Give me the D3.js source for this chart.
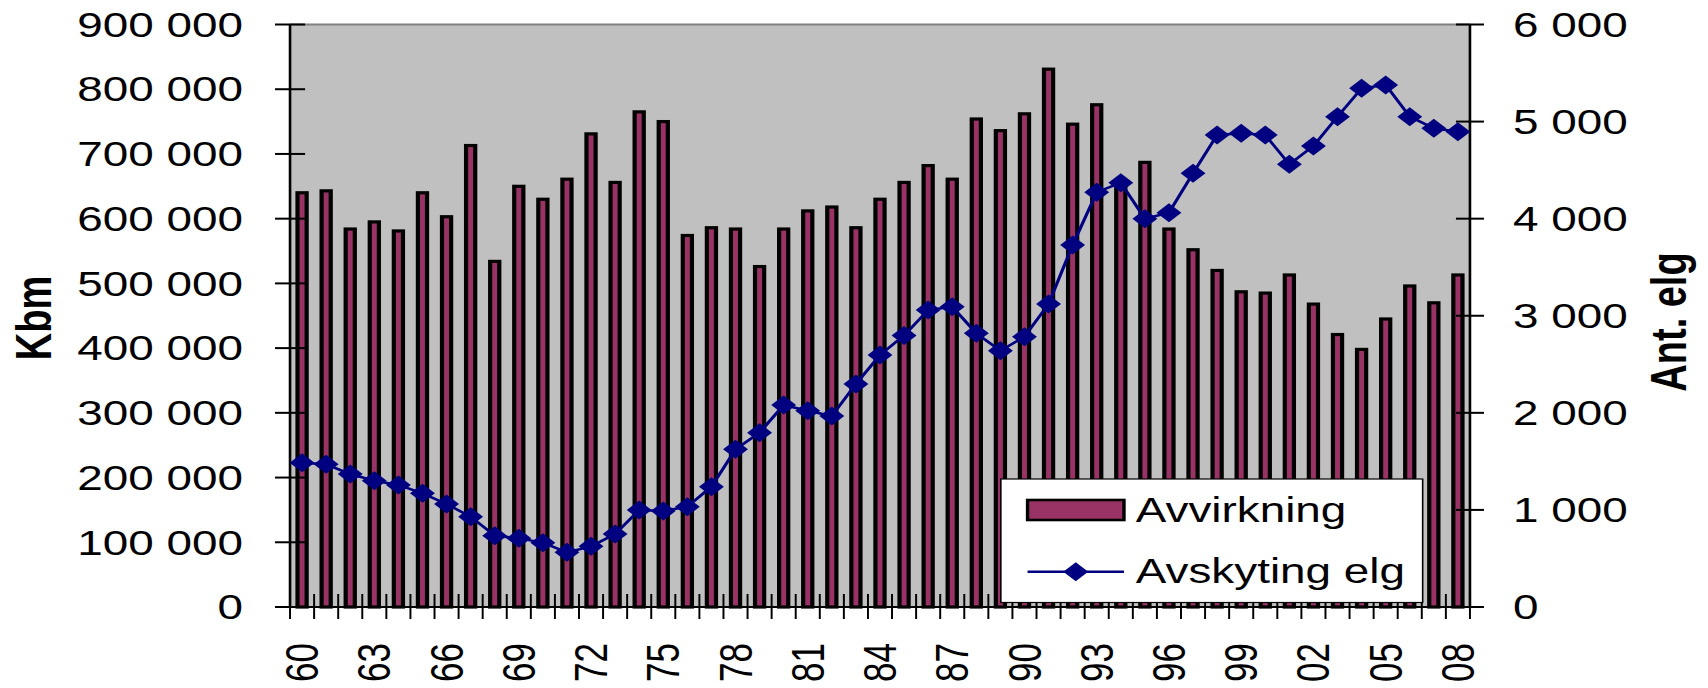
<!DOCTYPE html>
<html>
<head>
<meta charset="utf-8">
<script src="https://cdn.jsdelivr.net/npm/d3@7/dist/d3.min.js"></script>
<style>
  body { margin: 0; background: #fff; }
  text { font-family: "Liberation Sans", Arial, sans-serif; fill: #000; }
</style>
</head>
<body>
<div id="chart-area"></div>
<script>
// data
var years = [1960, 1961, 1962, 1963, 1964, 1965, 1966, 1967, 1968, 1969,
             1970, 1971, 1972, 1973, 1974, 1975, 1976, 1977, 1978, 1979,
             1980, 1981, 1982, 1983, 1984, 1985, 1986, 1987, 1988, 1989,
             1990, 1991, 1992, 1993, 1994, 1995, 1996, 1997, 1998, 1999,
             2000, 2001, 2002, 2003, 2004, 2005, 2006, 2007, 2008];

// Avvirkning (Kbm), left axis
var avvirkning = [640000, 643000, 584000, 595000, 581000, 640000, 603000, 713000, 534000, 650000,
                  630000, 661000, 731000, 656000, 765000, 750000, 574000, 586000, 584000, 526000,
                  584000, 612000, 618000, 586000, 630000, 656000, 682000, 661000, 754000, 736000,
                  762000, 831000, 746000, 776000, 648000, 687000, 584000, 552000, 520000, 487000,
                  485000, 513000, 468000, 421000, 398000, 445000, 496000, 470000, 513000];

// Avskyting elg (Ant. elg), right axis
var avskyting = [1486, 1470, 1370, 1301, 1257, 1171, 1061, 930, 735, 707,
                 663, 563, 625, 752, 999, 989, 1033, 1239, 1624, 1796,
                 2081, 2022, 1967, 2297, 2596, 2797, 3059, 3093, 2819, 2640,
                 2784, 3121, 3729, 4272, 4371, 4000, 4062, 4467, 4862, 4880,
                 4862, 4560, 4749, 5051, 5343, 5377, 5051, 4931, 4896];

var leftTicks = [0, 100000, 200000, 300000, 400000, 500000, 600000, 700000, 800000, 900000];
var rightTicks = [0, 1000, 2000, 3000, 4000, 5000, 6000];
var seriesNames = ["Avvirkning", "Avskyting elg"];

var width = 1708, height = 688;
var stretch = 1.31;           // the original picture is widened, text included
var plot = {left: 221.4, right: 1122.1, top: 24.5, bottom: 607};

var barColor = "#993366", lineColor = "#000080";

var nb = d3.formatLocale({decimal: ",", thousands: "\u00a0", grouping: [3], currency: ["", ""]});
var fmt = nb.format(",d");

var svg = d3.select('#chart-area').append('svg')
    .attr('width', width)
    .attr('height', height);
svg.append('rect').attr('width', width).attr('height', height).attr('fill', '#fff');

var g = svg.append('g').attr('transform', 'scale(' + stretch + ',1)');

var x = d3.scaleBand().domain(years).range([plot.left, plot.right]);
var yL = d3.scaleLinear().domain([0, 900000]).range([plot.bottom, plot.top]);
var yR = d3.scaleLinear().domain([0, 6000]).range([plot.bottom, plot.top]);
var bw = x.bandwidth();
var barW = bw * 0.38;

// plot area
g.append('rect')
    .attr('x', plot.left).attr('y', plot.top)
    .attr('width', plot.right - plot.left).attr('height', plot.bottom - plot.top)
    .attr('fill', '#c0c0c0');
g.append('line')
    .attr('x1', plot.left).attr('x2', plot.right)
    .attr('y1', plot.top).attr('y2', plot.top)
    .attr('stroke', '#808080').attr('stroke-width', 2);

// bars
g.selectAll('rect.bar')
    .data(years)
    .enter().append('rect')
    .attr('class', 'bar')
    .attr('x', function (d) { return x(d) + (bw - barW) / 2; })
    .attr('y', function (d, i) { return yL(avvirkning[i]); })
    .attr('width', barW)
    .attr('height', function (d, i) { return plot.bottom - yL(avvirkning[i]); })
    .attr('fill', barColor)
    .attr('stroke', '#000')
    .attr('stroke-width', 3.2);

// category boundary ticks on the x axis
var bounds = years.map(function (d) { return x(d); }).concat([x.range()[1]]);
g.selectAll('line.xtick')
    .data(bounds)
    .enter().append('line')
    .attr('class', 'xtick')
    .attr('x1', function (d) { return d; }).attr('x2', function (d) { return d; })
    .attr('y1', plot.bottom - 13).attr('y2', plot.bottom + 12)
    .attr('stroke', '#000').attr('stroke-width', 1.5);

// axis lines
g.append('line').attr('x1', plot.left).attr('x2', plot.left)
    .attr('y1', plot.top).attr('y2', plot.bottom).attr('stroke', '#000').attr('stroke-width', 2);
g.append('line').attr('x1', plot.right).attr('x2', plot.right)
    .attr('y1', plot.top).attr('y2', plot.bottom).attr('stroke', '#000').attr('stroke-width', 2);
g.append('line').attr('x1', plot.left).attr('x2', plot.right)
    .attr('y1', plot.bottom).attr('y2', plot.bottom).attr('stroke', '#000').attr('stroke-width', 2);

// left axis
var left = g.append('g').attr('class', 'left axis');
left.selectAll('line').data(leftTicks).enter().append('line')
    .attr('x1', plot.left - 11.5).attr('x2', plot.left + 11.5)
    .attr('y1', function (d) { return yL(d); }).attr('y2', function (d) { return yL(d); })
    .attr('stroke', '#000').attr('stroke-width', 2);
left.selectAll('text').data(leftTicks).enter().append('text')
    .attr('x', 185.5)
    .attr('y', function (d) { return yL(d); })
    .attr('dy', '0.35em')
    .attr('text-anchor', 'end')
    .attr('font-size', '35px')
    .text(function (d) { return fmt(d); });

// right axis
var right = g.append('g').attr('class', 'right axis');
right.selectAll('line').data(rightTicks).enter().append('line')
    .attr('x1', plot.right - 10.7).attr('x2', plot.right + 10.7)
    .attr('y1', function (d) { return yR(d); }).attr('y2', function (d) { return yR(d); })
    .attr('stroke', '#000').attr('stroke-width', 2);
right.selectAll('text').data(rightTicks).enter().append('text')
    .attr('x', 1155)
    .attr('y', function (d) { return yR(d); })
    .attr('dy', '0.35em')
    .attr('text-anchor', 'start')
    .attr('font-size', '35px')
    .text(function (d) { return fmt(d); });

// x labels, every third year
var labelYears = years.filter(function (d, i) { return i % 3 === 0; });
g.selectAll('text.xlabel')
    .data(labelYears)
    .enter().append('text')
    .attr('class', 'xlabel')
    .attr('transform', function (d) {
        return 'translate(' + (x(d) + bw / 2) + ',' + (plot.bottom + 36) + ') rotate(-90)';
    })
    .attr('dy', '0.35em')
    .attr('text-anchor', 'end')
    .attr('font-size', '35px')
    .text(function (d) { return String(d).slice(2); });

// axis titles
g.append('text')
    .attr('transform', 'translate(25.6,318) rotate(-90)')
    .attr('dy', '0.35em')
    .attr('text-anchor', 'middle')
    .attr('font-size', '38px')
    .attr('font-weight', 'bold')
    .text('Kbm');
g.append('text')
    .attr('transform', 'translate(1274,322) rotate(-90)')
    .attr('dy', '0.35em')
    .attr('text-anchor', 'middle')
    .attr('font-size', '38px')
    .attr('font-weight', 'bold')
    .text('Ant. elg');

// moose line
var diamond = 'M0,-9.5L9.5,0L0,9.5L-9.5,0Z';
var line = d3.line()
    .x(function (d, i) { return x(years[i]) + bw / 2; })
    .y(function (d) { return yR(d); });
g.append('path')
    .datum(avskyting)
    .attr('d', line)
    .attr('fill', 'none')
    .attr('stroke', lineColor)
    .attr('stroke-width', 2.5);
g.selectAll('path.marker')
    .data(avskyting)
    .enter().append('path')
    .attr('class', 'marker')
    .attr('d', diamond)
    .attr('transform', function (d, i) {
        return 'translate(' + (x(years[i]) + bw / 2) + ',' + yR(d) + ')';
    })
    .attr('fill', lineColor);

// legend
var lg = g.append('g').attr('class', 'legend');
lg.append('rect')
    .attr('x', 764).attr('y', 479).attr('width', 322).attr('height', 123.5)
    .attr('fill', '#fff').attr('stroke', '#000').attr('stroke-width', 1.2);
lg.append('rect')
    .attr('x', 784.4).attr('y', 500).attr('width', 73.6).attr('height', 20)
    .attr('fill', barColor).attr('stroke', '#000').attr('stroke-width', 2.6);
lg.append('line')
    .attr('x1', 784.4).attr('x2', 858).attr('y1', 571.7).attr('y2', 571.7)
    .attr('stroke', lineColor).attr('stroke-width', 2.5);
lg.append('path')
    .attr('d', diamond)
    .attr('transform', 'translate(821.2,571.7)')
    .attr('fill', lineColor);
lg.selectAll('text')
    .data(seriesNames)
    .enter().append('text')
    .attr('x', 867)
    .attr('y', function (d, i) { return i === 0 ? 522 : 583; })
    .attr('font-size', '35px')
    .text(function (d) { return d; });
</script>
</body>
</html>
